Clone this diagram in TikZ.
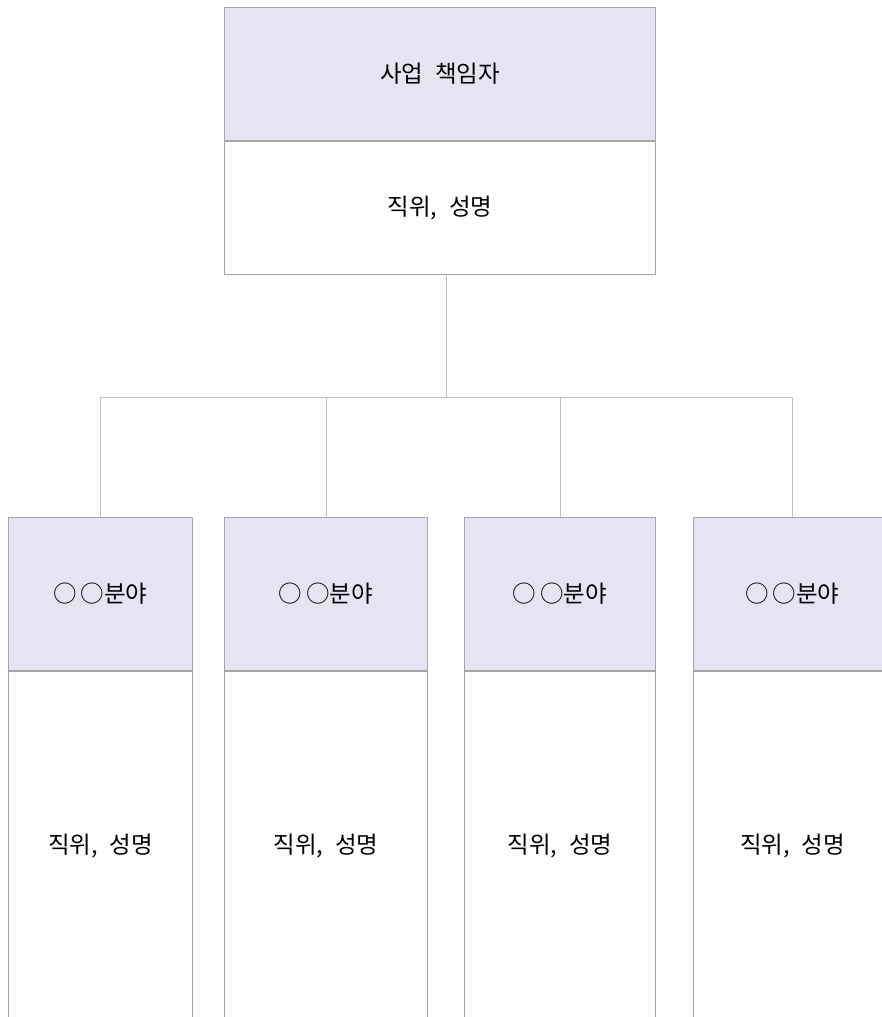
\documentclass[tikz,border=0pt]{standalone}
\usepackage{fontspec}
\setmainfont{Noto Sans CJK KR}
\usepackage{tikz}
\usetikzlibrary{positioning}
\definecolor{headfill}{HTML}{E7E3F2}
\definecolor{boxline}{HTML}{A6A6A6}
\definecolor{wireline}{HTML}{BFBFBF}

\begin{document}
\begin{tikzpicture}[
    x=1pt, y=1pt,
    head/.style = {draw=boxline,fill=headfill,line width=1pt,rectangle,
      inner sep=0pt,font=\fontsize{23.5}{28}\selectfont},
    body/.style = {draw=boxline,fill=white,line width=1pt,rectangle,
      inner sep=0pt,font=\fontsize{23.5}{28}\selectfont},
    wire/.style = {wireline,line width=1pt}
    ]
    \useasboundingbox (0,0) rectangle (882,-1017);
    \clip (0,0) rectangle (882,-1017);
    % Top box
    \node[head,anchor=north west,minimum width=431pt,minimum height=133pt]
      (boss) at (224,-7) {사업\enspace 책임자};
    \node[body,below=0pt of boss,minimum width=431pt,minimum height=133pt]
      (bossname) {직위,\enspace 성명};
    % Lower boxes
    \foreach \i/\l/\w in {1/8/184, 2/224/203, 3/464/191, 4/693/198} {
      \node[head,anchor=north west,minimum width=\w pt,minimum height=153pt]
        (field\i) at (\l,-517) {○\,○분야};
      \node[body,below=0pt of field\i,minimum width=\w pt,minimum height=350pt]
        (name\i) {직위,\enspace 성명};
    }
    % Connectors
    \coordinate[below=122pt of bossname.south,xshift=6pt] (bus);
    \draw[wire] ([xshift=6pt]bossname.south) -- (bus);
    \draw[wire] (field1.north) |- (field4.north |- bus) -- (field4.north);
    \foreach \i in {2,3}
      \draw[wire] (field\i.north) -- (field\i.north |- bus);
    % redraw tops so the wires sit under the borders
    \foreach \i in {1,...,4}
      \draw[boxline,line width=1pt] (field\i.north west) -- (field\i.north east);
\end{tikzpicture}
\end{document}
